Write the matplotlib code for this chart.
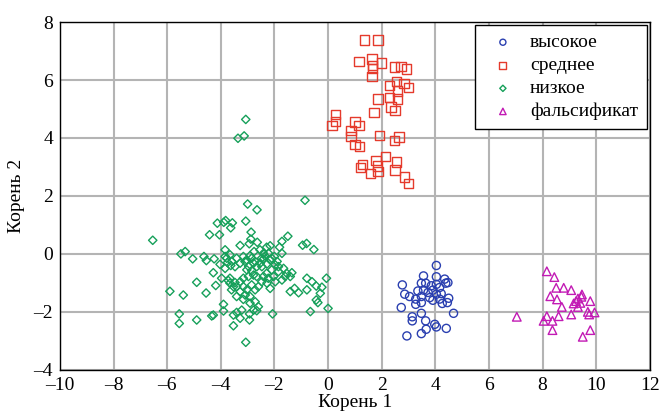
import numpy as np
import matplotlib.pyplot as plt

plt.rcParams['font.family'] = ['Liberation Serif', 'DejaVu Serif']

# высокое
high_x = [4.04, 3.56, 2.77, 3.48, 3.64, 4.04, 4.35, 4.47, 4.39, 3.85, 4.04, 4.16,
          2.86, 3.04, 3.35, 3.56, 3.73, 3.91, 4.04, 4.22, 3.27, 3.48, 3.79, 3.91,
          4.16, 4.50, 4.45, 4.26, 3.48, 3.27, 2.73, 3.14, 3.14, 3.48, 3.64, 4.68,
          3.98, 4.04, 3.66, 3.48, 2.94, 4.41]
high_y = [-0.40, -0.76, -1.07, -1.01, -1.01, -0.79, -0.87, -0.99, -1.01, -1.10, -1.05, -1.16,
          -1.39, -1.47, -1.28, -1.25, -1.33, -1.25, -1.39, -1.37, -1.56, -1.47, -1.51, -1.60,
          -1.56, -1.53, -1.68, -1.71, -1.68, -1.74, -1.85, -2.17, -2.31, -2.05, -2.31, -2.05,
          -2.43, -2.52, -2.60, -2.75, -2.83, -2.57]

# среднее
mid_x = [1.35, 1.86, 1.15, 1.64, 1.99, 1.66, 1.66, 1.64, 2.48, 2.72, 2.93, 2.55,
         2.29, 2.83, 3.00, 2.58, 1.86, 2.29, 2.58, 2.35, 2.50, 1.71, 0.29, 0.29,
         0.15, 1.00, 1.15, 0.85, 0.85, 1.93, 2.65, 2.48, 1.00, 1.16, 2.14, 1.79,
         1.29, 1.20, 1.85, 1.58, 1.86, 2.56, 2.50, 2.85, 3.00]
mid_y = [7.38, 7.38, 6.65, 6.73, 6.59, 6.50, 6.40, 6.13, 6.45, 6.47, 6.38, 5.94,
         5.80, 5.88, 5.73, 5.62, 5.34, 5.40, 5.34, 5.07, 4.95, 4.88, 4.81, 4.57,
         4.42, 4.55, 4.42, 4.26, 4.05, 4.08, 4.03, 3.91, 3.77, 3.70, 3.36, 3.23,
         3.09, 2.98, 3.03, 2.78, 2.84, 3.17, 2.90, 2.65, 2.43]

# низкое
low_x = [-3.07, -3.36, -3.13, -0.86, -3.00, -2.65, -3.07, -4.13, -3.89, -3.82, -3.57, -3.63,
         -4.42, -4.05, -2.87, -6.54, -1.50, -1.72, -0.95, -0.80, -0.53, -3.28, -2.94, -2.64,
         -2.88, -1.81, -1.72, -5.49, -5.33, -5.05, -4.63, -4.54, -4.25, -3.84, -3.84, -3.66,
         -4.03, -3.75, -3.63, -3.41, -3.10, -2.91, -2.76, -2.54, -2.41, -2.29, -2.16, -2.48,
         -2.78, -2.96, -3.03, -2.85, -2.47, -2.28, -2.16, -2.00, -1.90, -1.85, -1.66, -1.54,
         -1.35, -1.41, -2.10, -2.29, -2.41, -2.23, -2.28, -2.16, -1.97, -1.72, -1.60, -4.28,
         -4.90, -4.19, -4.55, -5.90, -5.40, -3.97, -3.72, -3.66, -3.47, -3.60, -3.41, -3.28,
         -3.16, -3.03, -2.85, -2.72, -2.60, -3.09, -2.91, -3.16, -3.41, -2.91, -2.72, -2.60,
         -2.78, -2.66, -3.90, -3.90, -4.28, -4.34, -4.90, -5.55, -5.55, -3.53, -3.41, -3.28,
         -3.22, -2.93, -2.93, -3.53, -3.07, -2.07, -0.79, -0.60, -0.79, -0.44, -0.23, -0.29,
         -0.44, -0.38, -0.66, -0.06, 0.00, -1.10, -1.41, -1.25, -3.78, -3.59, -3.47, -3.28,
         -3.16, -3.03, -2.85, -2.72, -2.66, -2.53, -2.41, -2.35, -2.22, -2.10, -1.97, -1.85,
         -2.03, -2.47, -2.66, -2.78, -2.97, -3.16, -3.28, -3.53, -3.66, -3.84]
low_y = [4.64, 3.99, 4.07, 1.85, 1.72, 1.52, 1.13, 1.06, 1.09, 1.15, 1.07, 0.90,
         0.66, 0.66, 0.75, 0.47, 0.61, 0.43, 0.30, 0.36, 0.15, 0.29, 0.35, 0.40,
         0.51, 0.23, 0.02, 0.00, 0.08, -0.17, -0.09, -0.23, -0.17, 0.14, -0.09, -0.03,
         -0.36, -0.30, -0.40, -0.15, -0.26, -0.06, 0.08, 0.14, 0.02, 0.23, 0.28, -0.15,
         -0.32, -0.44, -0.55, -0.58, -0.44, -0.35, -0.21, -0.09, -0.26, -0.44, -0.50, -0.67,
         -0.65, -0.78, -0.55, -0.67, -0.78, -0.84, -1.01, -1.19, -0.96, -0.90, -0.78, -0.65,
         -0.98, -1.09, -1.35, -1.29, -1.42, -0.84, -0.92, -1.01, -0.99, -1.24, -1.13, -1.30,
         -1.13, -1.24, -1.07, -1.24, -1.13, -1.42, -1.47, -1.57, -1.47, -1.70, -1.65, -1.82,
         -1.94, -1.96, -1.74, -1.97, -2.11, -2.14, -2.28, -2.07, -2.40, -2.11, -2.02, -2.22,
         -1.94, -2.07, -2.28, -2.48, -3.05, -2.07, -0.84, -0.96, -1.24, -1.11, -1.15, -1.36,
         -1.59, -1.68, -1.99, -0.84, -1.88, -1.34, -1.30, -1.19, -0.15, -0.26, -0.44, -0.32,
         -0.09, -0.21, -0.15, -0.26, -0.44, -0.32, -0.18, -0.07, 0.02, -0.15, -0.38, -0.61,
         -0.78, -0.96, -0.78, -0.73, -0.78, -0.84, -0.96, -1.13, -0.84, -0.50]

# фальсификат
fake_x = [8.16, 8.44, 8.51, 8.79, 9.07, 8.29, 8.54, 8.72, 9.47, 9.45, 9.32, 9.25,
          9.16, 9.41, 9.78, 9.32, 9.69, 9.74, 9.94, 9.07, 8.60, 8.16, 8.04, 8.37,
          8.37, 7.04, 9.78, 9.50]
fake_y = [-0.60, -0.80, -1.17, -1.17, -1.25, -1.46, -1.57, -1.83, -1.40, -1.48, -1.54, -1.63,
          -1.71, -1.69, -1.63, -1.83, -2.00, -2.09, -2.02, -2.09, -2.15, -2.15, -2.31, -2.31,
          -2.63, -2.17, -2.63, -2.86]

fig = plt.figure(figsize=(6.59, 4.16), dpi=100)
ax = fig.add_axes([0.091, 0.111, 0.895, 0.836])

ax.scatter(high_x, high_y, marker='o', s=34, facecolors='none', edgecolors='#2a3fb0', linewidths=1.0, label='высокое', zorder=3)
ax.scatter(mid_x, mid_y, marker='s', s=45, facecolors='none', edgecolors='#e53a2c', linewidths=1.0, label='среднее', zorder=3)
ax.scatter(low_x, low_y, marker='D', s=18, facecolors='none', edgecolors='#16a05a', linewidths=1.0, label='низкое', zorder=3)
ax.scatter(fake_x, fake_y, marker='^', s=38, facecolors='none', edgecolors='#c21ab4', linewidths=1.0, label='фальсификат', zorder=3)

ax.set_xlim(-10, 12)
ax.set_ylim(-4, 8)
ax.set_xticks(np.arange(-10, 13, 2))
ax.set_yticks(np.arange(-4, 9, 2))
ax.set_xticklabels(['\u2013' + str(-v) if v < 0 else str(v) for v in range(-10, 13, 2)])
ax.set_yticklabels(['\u2013' + str(-v) if v < 0 else str(v) for v in range(-4, 9, 2)])
ax.tick_params(length=0, labelsize=14, pad=5)
ax.grid(True, color='#b4b4b4', linewidth=1.5)
ax.set_axisbelow(True)
for s in ax.spines.values():
    s.set_color('black')
    s.set_linewidth(1.0)

ax.set_xlabel('Корень 1', fontsize=14, labelpad=0)
ax.set_ylabel('Корень 2', fontsize=14, labelpad=6)

leg = ax.legend(loc='upper right', fontsize=14, frameon=True, fancybox=False,
                edgecolor='black', framealpha=1, handletextpad=0.4,
                borderaxespad=0.15, markerscale=0.75, labelspacing=0.28,
                borderpad=0.45)
leg.get_frame().set_linewidth(1.0)

fig.savefig('out.png', dpi=100)
